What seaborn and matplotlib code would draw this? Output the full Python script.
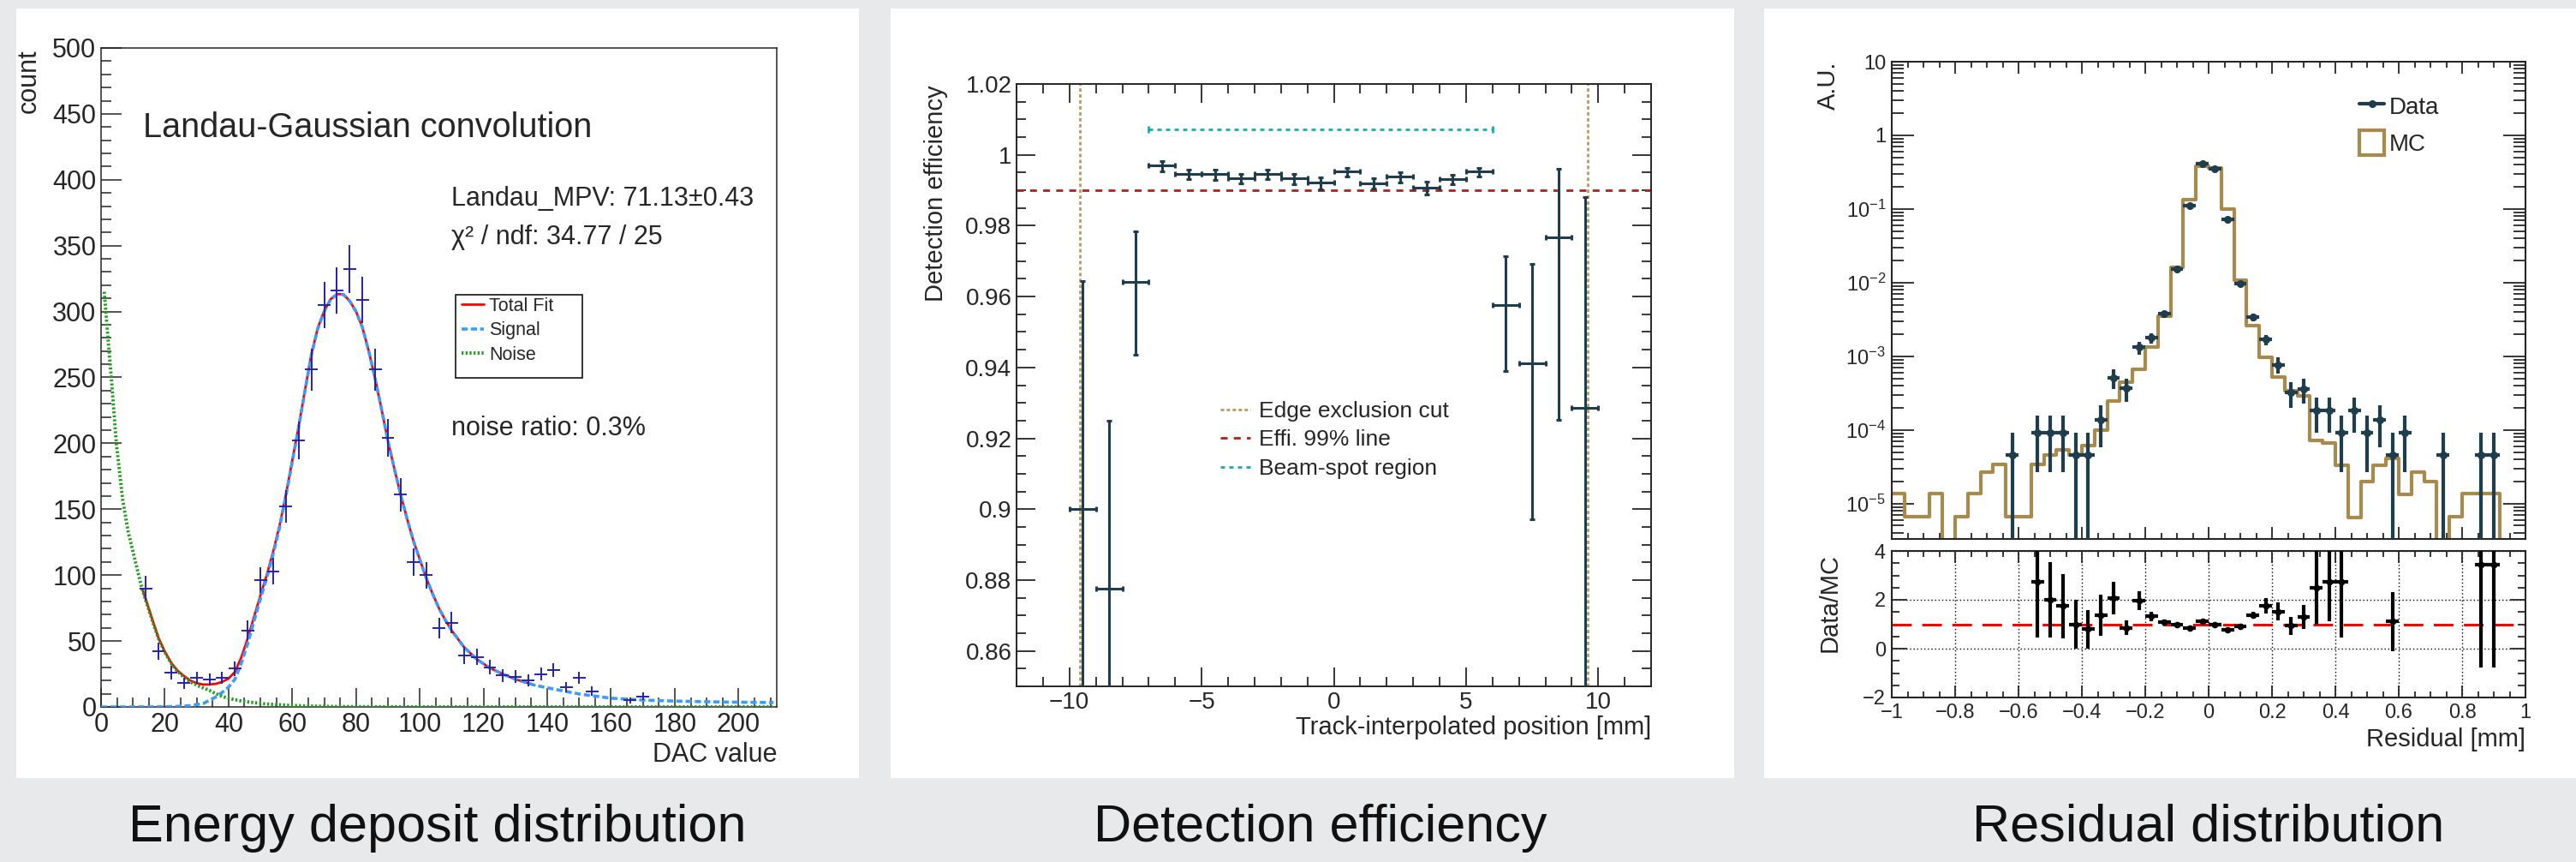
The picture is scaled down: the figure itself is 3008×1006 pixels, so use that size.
#!/usr/bin/env python3
# three ROOT-style result panels: energy deposit, efficiency, residual

import numpy as np
import pandas as pd
import seaborn as sns
import matplotlib.pyplot as plt
from matplotlib.patches import Rectangle, Patch
from matplotlib.lines import Line2D
from matplotlib.ticker import MultipleLocator, FuncFormatter, LogLocator, NullFormatter

sns.set_style('ticks')
plt.rcParams['font.family'] = ['Liberation Sans', 'DejaVu Sans']
plt.rcParams['mathtext.fontset'] = 'custom'
plt.rcParams['mathtext.rm'] = 'Liberation Sans'
plt.rcParams['mathtext.it'] = 'Liberation Sans:italic'
plt.rcParams['mathtext.default'] = 'regular'
plt.rcParams['axes.unicode_minus'] = True

W, H = 3008, 1006

# ---- panel 1: energy deposit (DAC) ----
dac_x = [14, 18, 22, 26, 30, 34, 38, 42, 46, 50, 54, 58, 62, 66, 70, 74, 78, 82, 86, 90,
         94, 98, 102, 106, 110, 114, 118, 122, 126, 130, 134, 138, 142, 146, 150, 154, 166, 170]
dac_counts = [90, 42, 26, 18, 22, 21, 22, 29, 58, 96, 103, 152, 202, 256, 305, 316, 332, 309, 256, 204,
              161, 110, 100, 60, 64, 39, 38, 30, 24, 23, 20, 25, 28, 15, 22, 12, 5, 8]
dac_err = [9.5, 6.5, 5.1, 4.2, 4.7, 4.6, 4.7, 5.4, 7.6, 9.8, 10.1, 12.3, 14.2, 16.0, 17.5, 17.8, 18.2, 17.6, 16.0, 14.3,
           12.7, 10.5, 10.0, 7.7, 8.0, 6.2, 6.2, 5.5, 4.9, 4.8, 4.5, 5.0, 5.3, 3.9, 4.7, 3.5, 2.2, 2.8]

noise_x = [1, 2, 3.2, 4.8, 6.8, 8.5, 10.4, 12.6, 14, 16, 18, 20, 22, 24, 26, 28, 30, 32, 34, 36,
           38, 40, 44, 48, 52, 60, 70, 80, 100, 211]
noise_y = [315, 285, 250, 200, 157, 133, 114, 92, 81, 66, 52, 41.5, 33, 27, 22.5, 19, 16.5, 14.5, 12.5, 10,
           8, 6.5, 4.5, 3.2, 2.2, 1.0, 0.4, 0.15, 0, 0]

signal_x = [0, 10, 20, 24, 28, 32, 36, 38, 40, 42, 44, 46, 48, 50, 52, 54, 56, 58, 60, 62,
            64, 66, 68, 70, 72, 74, 76, 78, 80, 82, 84, 86, 88, 90, 92, 94, 96, 98, 100, 102,
            104, 106, 108, 110, 114, 118, 122, 126, 130, 136, 140, 150, 160, 170, 180, 195, 211]
signal_y = [0, 0, 0.1, 0.4, 1.0, 2.5, 7.5, 11, 15, 21, 33, 48, 65, 82, 98, 116, 136, 160, 186, 212,
            240, 267, 287, 300, 309, 313, 313, 308, 300, 288, 270, 249, 226, 202, 181, 161, 143, 126, 112, 98,
            86, 75, 66, 58, 45, 36, 29.5, 25, 21, 16.5, 14.5, 9.8, 6.6, 5.2, 4.4, 3.7, 3.3]

total_x = [13, 14, 16, 18, 20, 22, 24, 26, 28, 30, 32, 34, 36, 38, 40, 42, 44, 46, 48, 50,
           52, 54, 56, 58, 60, 62, 64, 66, 68, 70, 72, 74, 76, 78, 80, 82, 84, 86, 88, 90,
           92, 94, 96, 98, 100, 102, 104, 106, 108, 110, 114, 118, 122, 126, 130, 136]
total_y = [89, 82, 67, 52.5, 42, 33.5, 27.5, 23.5, 20, 18, 17, 17, 17.5, 19, 21.5, 26.5, 37.5, 51.8, 68.2, 84.6,
           100.2, 117.8, 137.5, 161.2, 187, 212.8, 240.6, 267.6, 287.5, 300.4, 309.3, 313.2, 313.2, 308.1, 300.1, 288, 270, 249, 226, 202,
           181, 161, 143, 126, 112, 98, 86, 75, 66, 58, 45, 36, 29.5, 25, 21, 16.5]

# ---- panel 2: detection efficiency ----
pos = [-9.5, -8.5, -7.5, -6.5, -5.5, -4.5, -3.5, -2.5, -1.5, -0.5,
       0.5, 1.5, 2.5, 3.5, 4.5, 5.5, 6.5, 7.5, 8.5, 9.5]
eff = [0.9000, 0.8776, 0.9642, 0.9971, 0.9947, 0.9945, 0.9934, 0.9947, 0.9933, 0.9922,
       0.9953, 0.9920, 0.9938, 0.9908, 0.9932, 0.9953, 0.9576, 0.9411, 0.9767, 0.9285]
eff_lo = [0.10, 0.09, 0.0207, 0.0017, 0.0015, 0.0015, 0.0015, 0.0015, 0.0015, 0.0019,
          0.0015, 0.0016, 0.0015, 0.0020, 0.0016, 0.0015, 0.0187, 0.0439, 0.0514, 0.09]
eff_hi = [0.0643, 0.0473, 0.0143, 0.0012, 0.0011, 0.0012, 0.0012, 0.0011, 0.0012, 0.0015,
          0.0011, 0.0013, 0.0012, 0.0016, 0.0012, 0.0011, 0.0139, 0.0281, 0.0193, 0.0595]
edge_cut = [-9.6, 9.6]
effi_line = 0.99
beam_spot = [-7.0, 6.0]
beam_y = 1.0072

# ---- panel 3: residual ----
res_edges = np.linspace(-1, 1, 51)
mc_vals = [1.35e-5, 6.7e-6, 6.7e-6, 1.35e-5, 0, 6.7e-6, 1.35e-5, 2.7e-5, 3.4e-5, 6.7e-6,
           6.7e-6, 3.4e-5, 4.6e-5, 5.4e-5, 4.6e-5, 6.1e-5, 9.9e-5, 2.46e-4, 4.4e-4, 6.7e-4,
           1.32e-3, 3.5e-3, 1.6e-2, 0.133, 0.381, 0.365, 0.1, 0.0107, 2.6e-3, 9.6e-4,
           5.2e-4, 3.4e-4, 2.9e-4, 7.2e-5, 6.6e-5, 3.3e-5, 6.5e-6, 2e-5, 3.3e-5, 4.1e-5,
           1.33e-5, 2.7e-5, 2e-5, 0, 6.7e-6, 1.35e-5, 1.35e-5, 1.35e-5, 0, 0]
data_x = [-0.62, -0.54, -0.50, -0.46, -0.42, -0.38, -0.34, -0.30, -0.26, -0.22,
          -0.18, -0.14, -0.10, -0.06, -0.02, 0.02, 0.06, 0.10, 0.14, 0.18,
          0.22, 0.26, 0.30, 0.34, 0.38, 0.42, 0.46, 0.50, 0.54, 0.58,
          0.62, 0.74, 0.86, 0.90]
data_y = [4.6e-5, 9.1e-5, 9.1e-5, 9.1e-5, 4.6e-5, 4.6e-5, 1.38e-4, 5.1e-4, 3.7e-4, 1.32e-3,
          1.77e-3, 3.75e-3, 0.0153, 0.112, 0.417, 0.349, 0.0732, 9.6e-3, 3.4e-3, 1.68e-3,
          7.7e-4, 3.2e-4, 3.6e-4, 1.82e-4, 1.82e-4, 9.1e-5, 1.82e-4, 9.1e-5, 1.38e-4, 4.6e-5,
          9.1e-5, 4.6e-5, 4.6e-5, 4.6e-5]
data_err = [4.6e-5, 6.4e-5, 6.4e-5, 6.4e-5, 4.6e-5, 4.6e-5, 8e-5, 1.5e-4, 1.3e-4, 2.6e-4,
            2.9e-4, 4.1e-4, 8.3e-4, 2.3e-3, 4.4e-3, 4e-3, 1.8e-3, 6.6e-4, 3.9e-4, 2.8e-4,
            1.9e-4, 1.2e-4, 1.3e-4, 9.1e-5, 9.1e-5, 6.4e-5, 9.1e-5, 6.4e-5, 8e-5, 4.6e-5,
            6.4e-5, 4.6e-5, 4.6e-5, 4.6e-5]
ratio_x = [-0.54, -0.50, -0.46, -0.42, -0.38, -0.34, -0.30, -0.26, -0.22, -0.18,
           -0.14, -0.10, -0.06, -0.02, 0.02, 0.06, 0.10, 0.14, 0.18, 0.22,
           0.26, 0.30, 0.34, 0.38, 0.42, 0.58, 0.86, 0.90]
ratio_y = [2.74, 2.0, 1.74, 0.99, 0.79, 1.38, 2.07, 0.85, 1.97, 1.32,
           1.09, 0.97, 0.85, 1.12, 1.0, 0.76, 0.91, 1.38, 1.76, 1.52,
           0.93, 1.29, 2.5, 2.74, 2.74, 1.12, 3.45, 3.45]
ratio_err = [2.28, 1.55, 1.33, 1.0, 0.78, 0.84, 0.68, 0.3, 0.39, 0.2,
             0.1, 0.06, 0.04, 0.03, 0.03, 0.04, 0.06, 0.12, 0.31, 0.37,
             0.37, 0.49, 1.5, 1.62, 2.28, 1.21, 4.21, 4.21]

titles = ['Energy deposit distribution', 'Detection efficiency', 'Residual distribution']

navy = '#2424a8'
azure = '#3b9cff'
green = '#1fa01f'
slate = '#1e3d4d'
gold = '#a88a4c'
tan = '#b89a5e'
darkred = '#b3201a'
teal = '#1aacac'


def frac(x, y):
    return x / W, 1 - y / H


def rect(l, r, t, b):
    return [l / W, 1 - b / H, (r - l) / W, (b - t) / H]


def ftext(x, y, s, **kw):
    fx, fy = frac(x, y)
    fig.text(fx, fy, s, **kw)


def strip_fmt(nd):
    def f(v, p):
        v = round(v, nd) + 0.0
        s = f'{v:.{nd}f}'
        if '.' in s:
            s = s.rstrip('0').rstrip('.')
        if s == '-0':
            s = '0'
        return s.replace('-', '\u2212')
    return FuncFormatter(f)


fig = plt.figure(figsize=(W / 100, H / 100), dpi=100, facecolor='#e8e9eb')

# white cards
for l, r in [(19, 1003), (1040, 2025), (2060, 3008)]:
    fig.add_artist(Rectangle((l / W, 1 - 908 / H), (r - l) / W, 898 / H,
                             transform=fig.transFigure, facecolor='white', edgecolor='none', zorder=0))

for cx, t in zip([511, 1542, 2579], titles):
    ftext(cx, 982, t, ha='center', va='baseline', fontsize=44, color='#111111')

# ================= panel 1 =================
ax1 = fig.add_axes(rect(118, 907, 56, 825))
sns.lineplot(x=total_x, y=total_y, ax=ax1, color='red', lw=2.0, errorbar=None, zorder=3)
sns.lineplot(x=signal_x, y=signal_y, ax=ax1, color=azure, lw=2.6, linestyle=(0, (2, 1)), errorbar=None, zorder=4)
sns.lineplot(x=noise_x, y=noise_y, ax=ax1, color=green, lw=2.8, linestyle=(0, (0.6, 0.6)), errorbar=None, zorder=5)
ax1.errorbar(dac_x, dac_counts, xerr=2, yerr=dac_err, fmt='none', ecolor=navy, elinewidth=1.4, zorder=6)
ax1.set_xlim(0, 212)
ax1.set_ylim(0, 500)
ax1.xaxis.set_major_locator(MultipleLocator(20))
ax1.xaxis.set_minor_locator(MultipleLocator(5))
ax1.yaxis.set_major_locator(MultipleLocator(50))
ax1.yaxis.set_minor_locator(MultipleLocator(10))
ax1.tick_params(which='both', direction='in', top=False, right=False, width=1.1, labelsize=22, pad=4)
ax1.tick_params(axis='y', which='major', length=17)
ax1.tick_params(axis='y', which='minor', length=8.5)
ax1.tick_params(axis='x', which='major', length=16)
ax1.tick_params(axis='x', which='minor', length=8)
for sp in ax1.spines.values():
    sp.set_linewidth(1.1)
ax1.set_xlabel('')
ax1.set_ylabel('')

ax1.add_patch(Rectangle((0.5247, 0.4993), 0.1876, 0.1262, transform=ax1.transAxes,
                        facecolor='white', edgecolor='black', lw=1.1, zorder=7))
h1 = [Line2D([], [], color='red', lw=2.0),
      Line2D([], [], color=azure, lw=2.6, ls=(0, (2, 1))),
      Line2D([], [], color=green, lw=2.8, ls=(0, (0.6, 0.6)))]
leg1 = ax1.legend(h1, ['Total Fit', 'Signal', 'Noise'], loc='upper left', bbox_to_anchor=(0.5336, 0.6216),
                  frameon=False, fontsize=15.5, handlelength=1.2, handletextpad=0.3, labelspacing=0.34,
                  borderpad=0, borderaxespad=0)
leg1.set_zorder(8)

ftext(34, 57, 'count', rotation=90, ha='center', va='top', fontsize=22)
ftext(907, 889, 'DAC value', ha='right', va='baseline', fontsize=22)
ftext(167, 160, 'Landau-Gaussian convolution', ha='left', va='baseline', fontsize=28.5)
ftext(527, 240, 'Landau_MPV: 71.13\u00b10.43', ha='left', va='baseline', fontsize=22)
ftext(527, 285, '\u03c7\u00b2 / ndf: 34.77 / 25', ha='left', va='baseline', fontsize=22)
ftext(527, 508, 'noise ratio: 0.3%', ha='left', va='baseline', fontsize=22)

# ================= panel 2 =================
ax2 = fig.add_axes(rect(1187, 1928, 98, 801))
for xc in edge_cut:
    ax2.axvline(xc, color=tan, lw=2.0, ls=(0, (1.4, 1.1)), zorder=2)
ax2.axhline(effi_line, color=darkred, lw=2.0, ls=(0, (2.9, 2.6)), zorder=2)
ax2.hlines(beam_y, beam_spot[0], beam_spot[1], color=teal, lw=2.0, ls=(0, (1.8, 1.8)), zorder=2)
ax2.vlines(beam_spot, beam_y - 0.0009, beam_y + 0.0009, color=teal, lw=2.0, zorder=2)
ax2.errorbar(pos, eff, xerr=0.5, yerr=[eff_lo, eff_hi], fmt='none', ecolor=slate,
             elinewidth=2.2, capsize=2.2, capthick=2.2, zorder=4)
ax2.set_xlim(-12, 12)
ax2.set_ylim(0.85, 1.02)
ax2.xaxis.set_major_locator(MultipleLocator(5))
ax2.xaxis.set_minor_locator(MultipleLocator(1))
ax2.yaxis.set_major_locator(MultipleLocator(0.02))
ax2.yaxis.set_minor_locator(MultipleLocator(0.005))
ax2.xaxis.set_major_formatter(strip_fmt(0))
ax2.yaxis.set_major_formatter(strip_fmt(2))
ax2.tick_params(which='both', direction='in', top=True, right=True, width=1.3, labelsize=20, pad=4)
ax2.tick_params(which='major', length=16)
ax2.tick_params(which='minor', length=8)
for sp in ax2.spines.values():
    sp.set_linewidth(1.4)
h2 = [Line2D([], [], color=tan, lw=2.0, ls=(0, (1.4, 1.1))),
      Line2D([], [], color=darkred, lw=2.0, ls=(0, (2.9, 2.6))),
      Line2D([], [], color=teal, lw=2.0, ls=(0, (1.8, 1.8)))]
ax2.legend(h2, ['Edge exclusion cut', 'Effi. 99% line', 'Beam-spot region'], loc='upper left',
           bbox_to_anchor=(0.3212, 0.4737), frameon=False, fontsize=19, handlelength=1.33,
           handletextpad=0.38, labelspacing=0.36, borderpad=0, borderaxespad=0)
ftext(1093, 99, 'Detection efficiency', rotation=90, ha='center', va='top', fontsize=21)
ftext(1928, 857, 'Track-interpolated position [mm]', ha='right', va='baseline', fontsize=21)

# ================= panel 3 =================
ax3 = fig.add_axes(rect(2209, 2949, 72, 629))
ax3r = fig.add_axes(rect(2209, 2949, 643, 814))
ax3.set_yscale('log')
mc_df = pd.DataFrame({'res': (res_edges[:-1] + res_edges[1:]) / 2, 'mc': mc_vals})
sns.histplot(data=mc_df, x='res', weights='mc', bins=res_edges.tolist(), element='step', fill=False,
             color=gold, lw=3.0, ax=ax3, legend=False, zorder=2)
ax3.errorbar(data_x, data_y, xerr=0.02, yerr=data_err, fmt='o', ms=5.5, color=slate,
             elinewidth=3.0, capsize=0, zorder=4)
ax3.set_xlim(-1, 1)
ax3.set_ylim(3.3e-6, 10)
ax3.set_xlabel('')
ax3.set_ylabel('')


def log_fmt(v, p):
    e = int(round(np.log10(v)))
    if e == 1:
        return '10'
    if e == 0:
        return '1'
    return r'$\mathregular{10^{%d}}$' % e


ax3.yaxis.set_major_locator(LogLocator(base=10, numticks=20))
ax3.yaxis.set_minor_locator(LogLocator(base=10, subs=np.arange(2, 10), numticks=20))
ax3.yaxis.set_major_formatter(FuncFormatter(log_fmt))
ax3.yaxis.set_minor_formatter(NullFormatter())
ax3.xaxis.set_major_locator(MultipleLocator(0.2))
ax3.xaxis.set_minor_locator(MultipleLocator(0.05))
ax3.tick_params(which='both', direction='in', top=True, right=True, width=1.3, labelsize=17, pad=5,
                labelbottom=False)
ax3.tick_params(axis='y', which='major', length=19)
ax3.tick_params(axis='y', which='minor', length=10)
ax3.tick_params(axis='x', which='major', length=10)
ax3.tick_params(axis='x', which='minor', length=5)
for sp in ax3.spines.values():
    sp.set_linewidth(1.5)

h3 = [Line2D([], [], color=slate, lw=3.0, marker='o', ms=5.5),
      Patch(facecolor='none', edgecolor=gold, lw=3.0)]
ax3.legend(h3, ['Data', 'MC'], loc='upper left', bbox_to_anchor=(0.738, 0.9327), frameon=False,
           fontsize=20, handlelength=1.05, handleheight=1.2, handletextpad=0.2, labelspacing=0.47,
           borderpad=0, borderaxespad=0)

ax3r.axhline(1, color='red', lw=2.2, ls=(0, (7.5, 4)), zorder=2)
ax3r.errorbar(ratio_x, ratio_y, xerr=0.02, yerr=ratio_err, fmt='o', ms=4.5, color='black',
              elinewidth=3.0, capsize=0, zorder=4)
ax3r.set_xlim(-1, 1)
ax3r.set_ylim(-2, 4)
ax3r.xaxis.set_major_locator(MultipleLocator(0.2))
ax3r.xaxis.set_minor_locator(MultipleLocator(0.05))
ax3r.yaxis.set_major_locator(MultipleLocator(2))
ax3r.yaxis.set_minor_locator(MultipleLocator(0.5))
ax3r.xaxis.set_major_formatter(strip_fmt(1))
ax3r.yaxis.set_major_formatter(strip_fmt(0))
ax3r.grid(True, which='major', ls=(0, (1, 2)), color='black', lw=1.0)
ax3r.tick_params(which='both', direction='in', top=True, right=True, width=1.3, labelsize=17, pad=5)
ax3r.tick_params(axis='y', which='major', length=13)
ax3r.tick_params(axis='y', which='minor', length=6.5)
ax3r.tick_params(axis='x', which='major', length=10)
ax3r.tick_params(axis='x', which='minor', length=5)
for sp in ax3r.spines.values():
    sp.set_linewidth(1.5)

ftext(2135, 72, 'A.U.', rotation=90, ha='center', va='top', fontsize=21)
ftext(2137, 646, 'Data/MC', rotation=90, ha='center', va='top', fontsize=21)
ftext(2949, 871, 'Residual [mm]', ha='right', va='baseline', fontsize=21)

fig.savefig('out.png', dpi=100, facecolor=fig.get_facecolor())
